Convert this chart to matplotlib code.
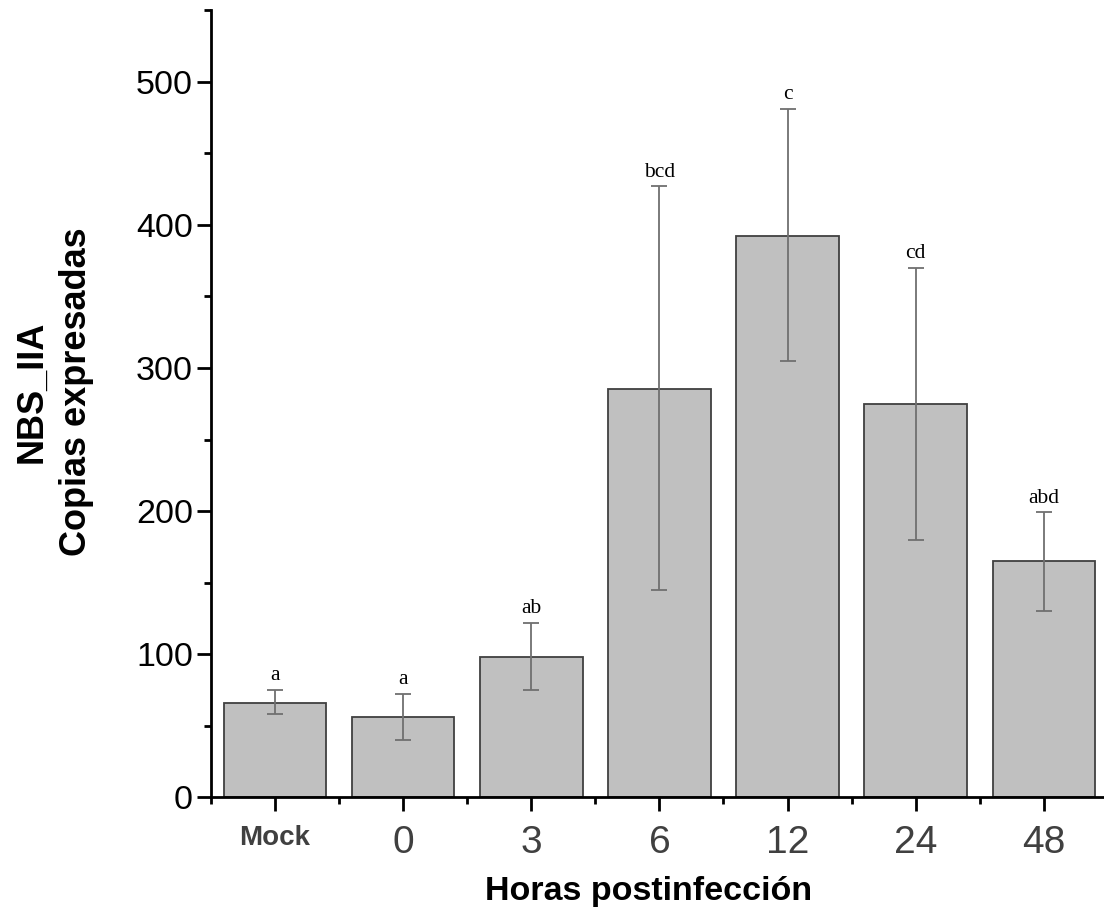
import matplotlib.pyplot as plt
from matplotlib.ticker import MultipleLocator, FixedLocator
import numpy as np

# data
categories = ['Mock', '0', '3', '6', '12', '24', '48']
means = [66, 56, 98, 285, 392, 275, 165]
err_low = [58, 40, 75, 145, 305, 180, 130]
err_high = [75, 72, 122, 427, 481, 370, 199]
letters = ['a', 'a', 'ab', 'bcd', 'c', 'cd', 'abd']

plt.rcParams['font.family'] = ['Liberation Sans', 'DejaVu Sans']

fig = plt.figure(figsize=(11.04, 9.11), dpi=100)
ax = fig.add_axes([0.1911, 0.1251, 0.8089, 0.8634])

x = np.arange(len(categories))
means_a = np.array(means)
yerr = [means_a - np.array(err_low), np.array(err_high) - means_a]

ax.bar(x, means, width=0.8, color='#c0c0c0', edgecolor='#404040',
       linewidth=1.3, zorder=2)
ax.errorbar(x, means, yerr=yerr, fmt='none', ecolor='#707070',
            elinewidth=1.3, capsize=5.5, capthick=1.3, zorder=3)

# significance letters above each error bar
for xi, top, lab in zip(x, err_high, letters):
    ax.annotate(lab, (xi, top), xytext=(0, 7), textcoords='offset points',
                ha='center', va='baseline', fontsize=15.5,
                family=['Liberation Serif', 'DejaVu Serif'])

ax.set_xlim(-0.5, 6.47)
ax.set_ylim(0, 550)

for s in ['top', 'right']:
    ax.spines[s].set_visible(False)
for s in ['left', 'bottom']:
    ax.spines[s].set_linewidth(2)

ax.yaxis.set_major_locator(MultipleLocator(100))
ax.yaxis.set_minor_locator(MultipleLocator(50))
ax.set_xticks(x)
ax.set_xticklabels(categories)
ax.xaxis.set_minor_locator(FixedLocator(np.arange(-0.5, 6.6, 1.0)))

ax.tick_params(which='major', length=10, width=2, direction='out')
ax.tick_params(which='minor', length=5, width=2, direction='out')
ax.tick_params(axis='y', labelsize=24.5, pad=3)
ax.tick_params(axis='x', labelsize=28, pad=10, labelcolor='#404040')

lbls = ax.get_xticklabels()
lbls[0].set_fontsize(20)
lbls[0].set_fontweight('bold')

ax.set_xlabel('Horas postinfección', fontsize=24.5, fontweight='bold',
              labelpad=11)
ax.xaxis.label.set_x(0.49)
ax.set_ylabel('NBS_IIA\nCopias expresadas', fontsize=26,
              fontweight='bold', labelpad=30, linespacing=1.35)
ax.yaxis.label.set_y(0.515)

fig.savefig('out.png', dpi=100)
